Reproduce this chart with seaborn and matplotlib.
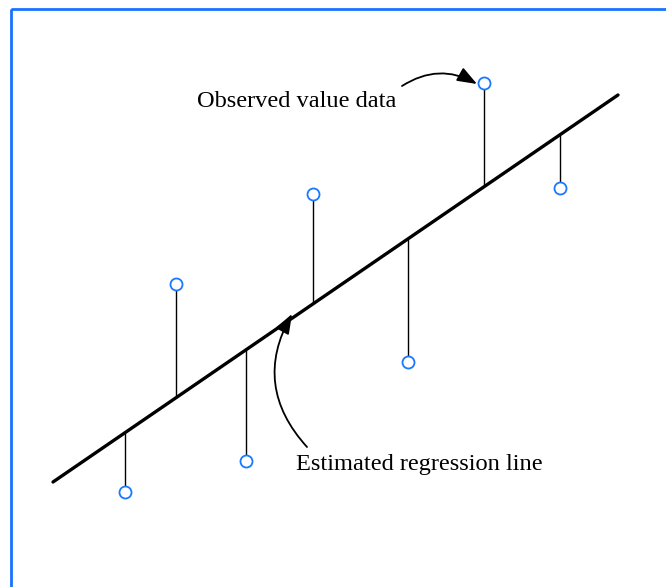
import numpy as np
import seaborn as sns
import matplotlib.pyplot as plt
from matplotlib.patches import Rectangle

# pixel-like coordinates (y grows downward)
obs_x = [125, 176, 246, 313, 408, 484, 560]
obs_y = [492, 284, 461, 194, 362, 83, 188]
fit_y = [433, 398, 350, 304, 239, 187, 135]

line_x = [53, 618]
line_y = [482, 95]

sns.set_style("white")
plt.rcParams['font.family'] = ['Liberation Serif', 'DejaVu Serif']

fig = plt.figure(figsize=(6.66, 5.87), dpi=100)
ax = fig.add_axes([0, 0, 1, 1])
ax.set_xlim(0, 666)
ax.set_ylim(587, 0)
ax.axis('off')

# frame
ax.add_patch(Rectangle((11, 9), 800, 800, fill=False, edgecolor='#1a73ff', lw=2))

# residuals
ax.vlines(obs_x, fit_y, obs_y, color='black', lw=1)

# regression line
sns.lineplot(x=line_x, y=line_y, color='black', lw=2.4, ax=ax)

# observations
sns.scatterplot(x=obs_x, y=obs_y, s=75, facecolor='white', edgecolor='#1a78ff',
                linewidth=1.3, ax=ax, zorder=5)

arrow = dict(arrowstyle='-|>,head_length=1.2,head_width=0.45', color='black', lw=1.3,
             shrinkA=0, shrinkB=0)
ax.annotate('', xy=(477, 84), xytext=(402, 86),
            arrowprops=dict(connectionstyle='arc3,rad=-0.3', **arrow))
ax.annotate('', xy=(292, 314), xytext=(307, 447),
            arrowprops=dict(connectionstyle='arc3,rad=-0.36', **arrow))

ax.text(197, 107, 'Observed value data', fontsize=17.6, color='black',
        ha='left', va='baseline')
ax.text(296, 470, 'Estimated regression line', fontsize=17.6, color='black',
        ha='left', va='baseline')

plt.savefig("out.png", dpi=100)
